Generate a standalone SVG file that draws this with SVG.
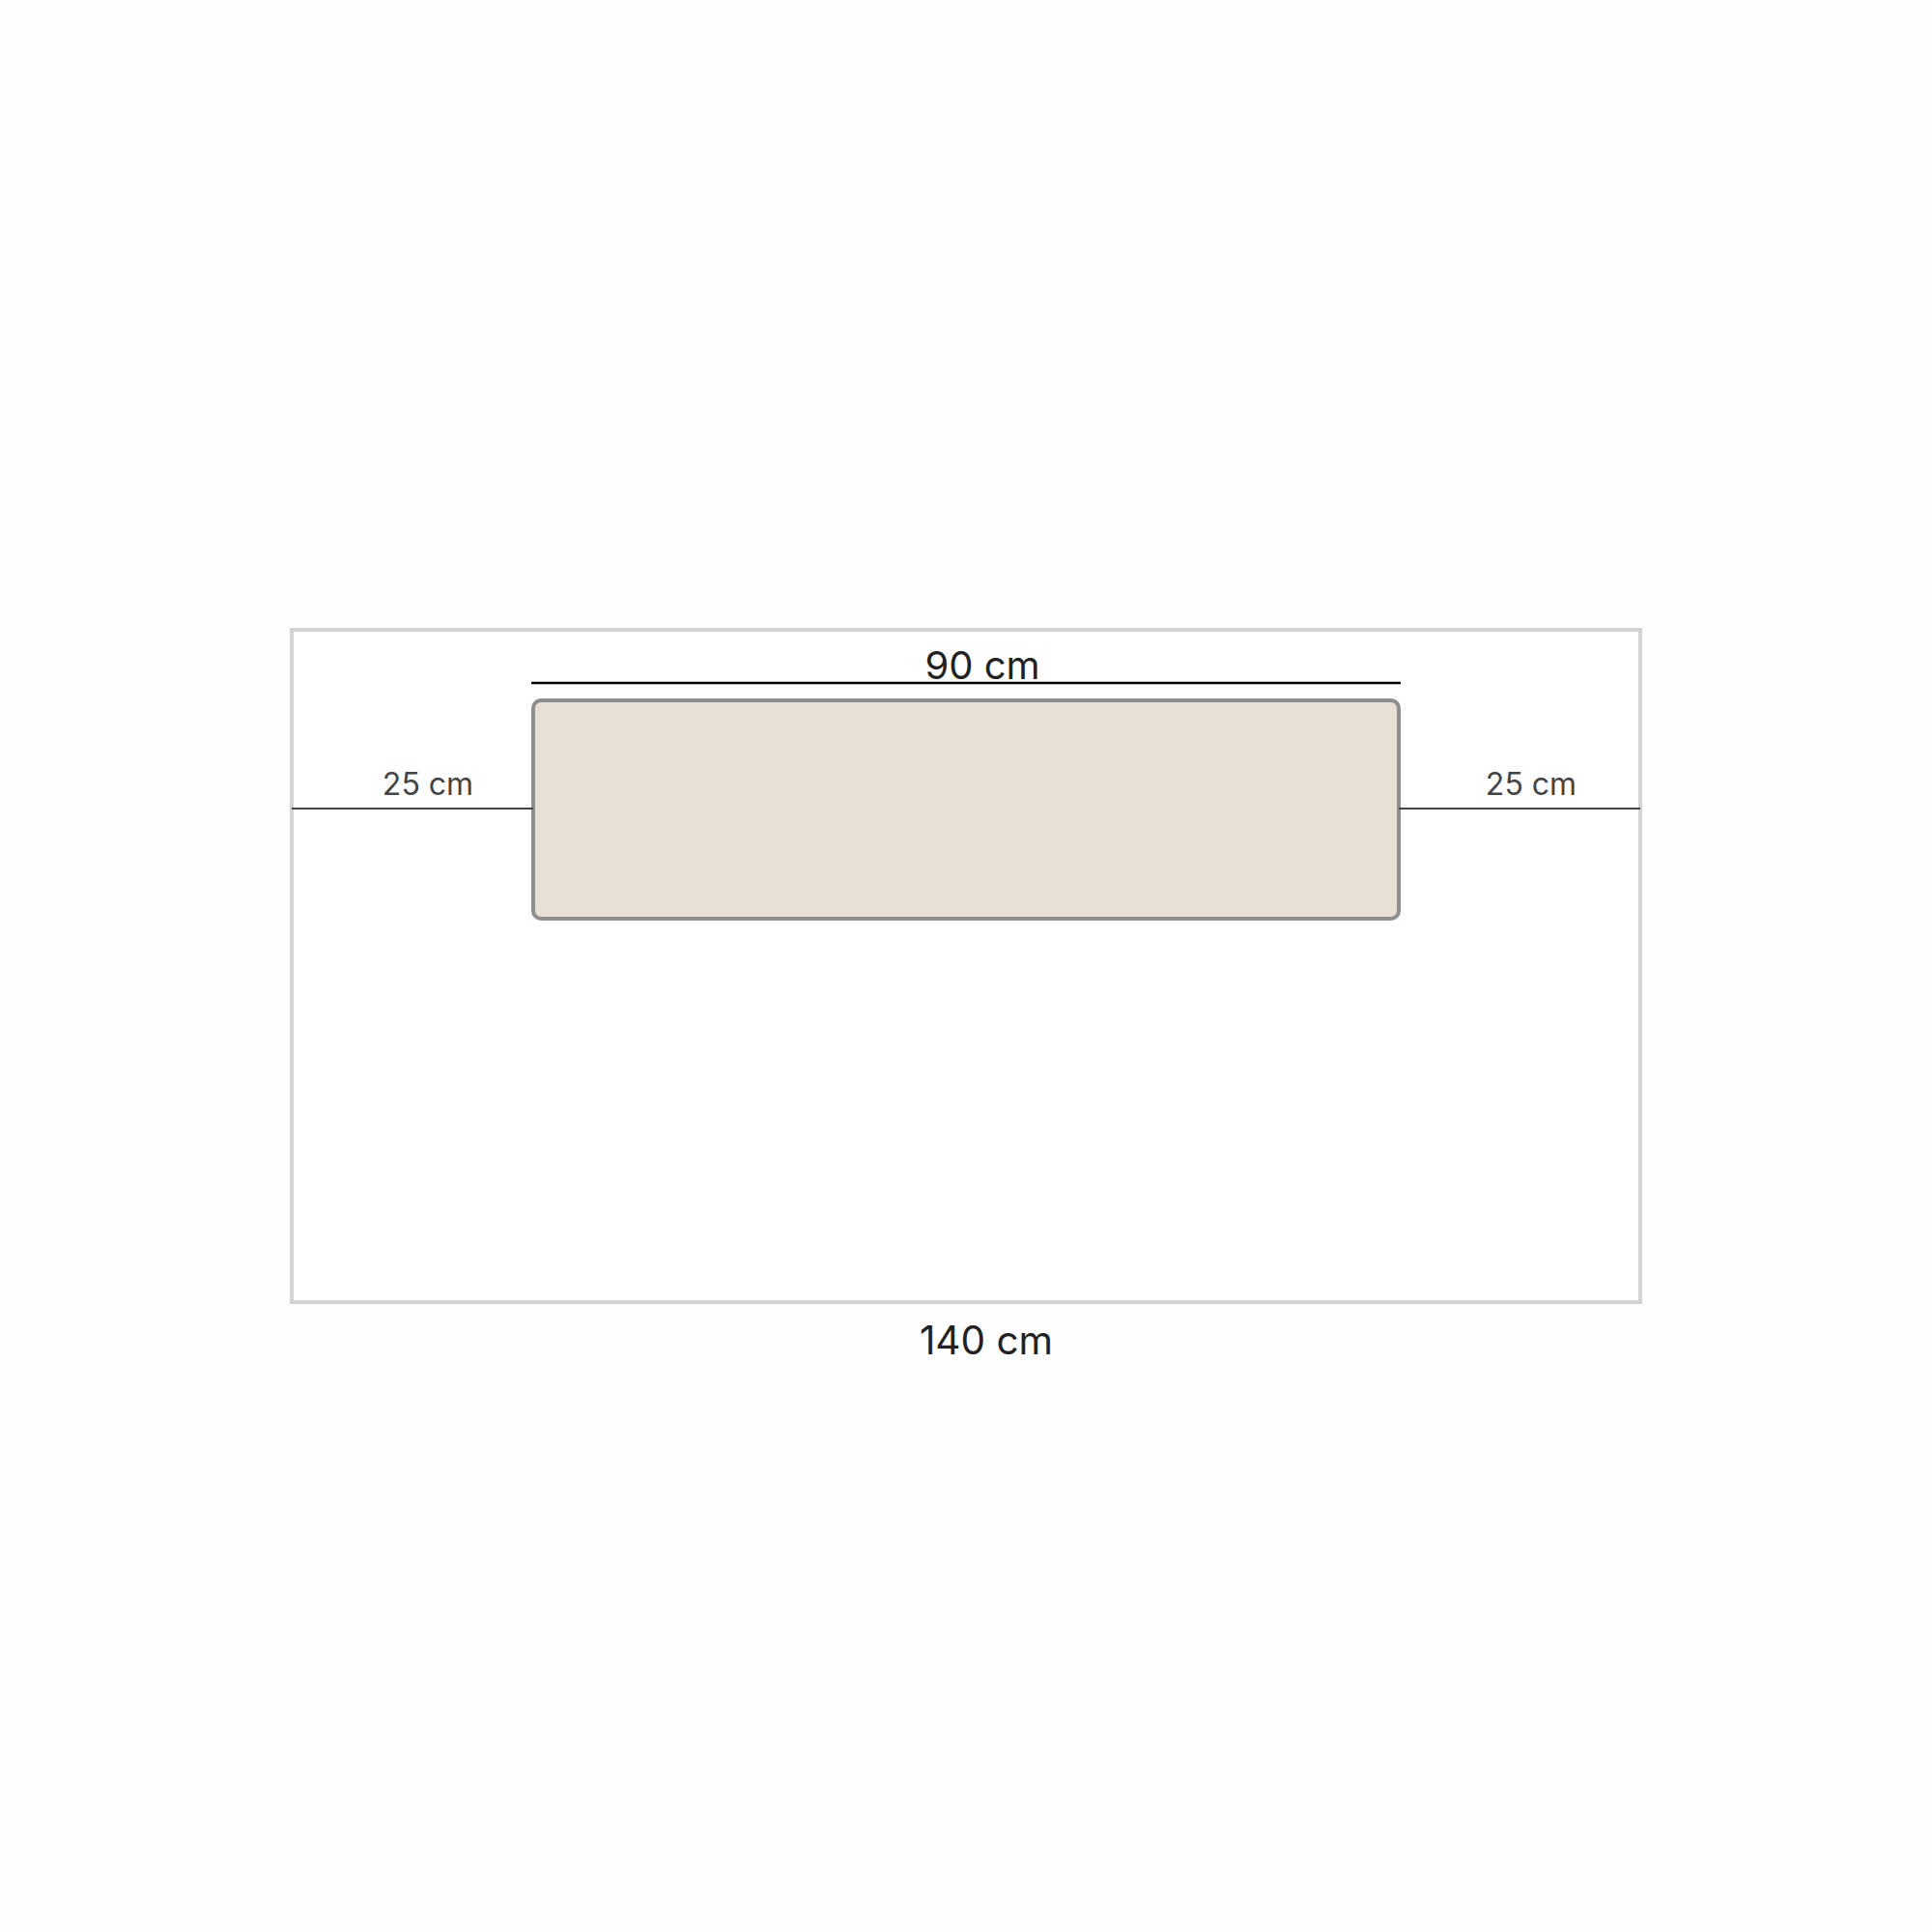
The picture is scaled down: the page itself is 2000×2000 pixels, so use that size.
<svg xmlns="http://www.w3.org/2000/svg" width="2000" height="2000" viewBox="0 0 2000 2000">
<style>
.lbl{font-family:Inter,"Liberation Sans",sans-serif;text-anchor:middle}
.dim{stroke:#000;stroke-width:2.5}
.side{stroke:#444;stroke-width:2}
</style>
<rect width="2000" height="2000" fill="#fefefe"/>
<g id="outer">
<rect x="302" y="652" width="1396" height="696" fill="#ffffff" stroke="#d3d3d3" stroke-width="4"/>
<text class="lbl" x="1021" y="1402" font-size="40.5" fill="#222">140 cm</text>
</g>
<g id="inner">
<rect x="552" y="725" width="896" height="226" rx="8" fill="#e8e0d5" stroke="#8f8f8f" stroke-width="4"/>
</g>
<g id="connectors">
<line class="dim" x1="550" y1="707" x2="1450" y2="707"/>
<line class="side" x1="302" y1="837" x2="552" y2="837"/>
<line class="side" x1="1448" y1="837" x2="1698" y2="837"/>
</g>
<g id="labels">
<text class="lbl" x="1017" y="703" font-size="40" fill="#222">90 cm</text>
<text class="lbl" x="443" y="823" font-size="32" fill="#444">25 cm</text>
<text class="lbl" x="1585" y="823" font-size="32" fill="#444">25 cm</text>
</g>
</svg>
